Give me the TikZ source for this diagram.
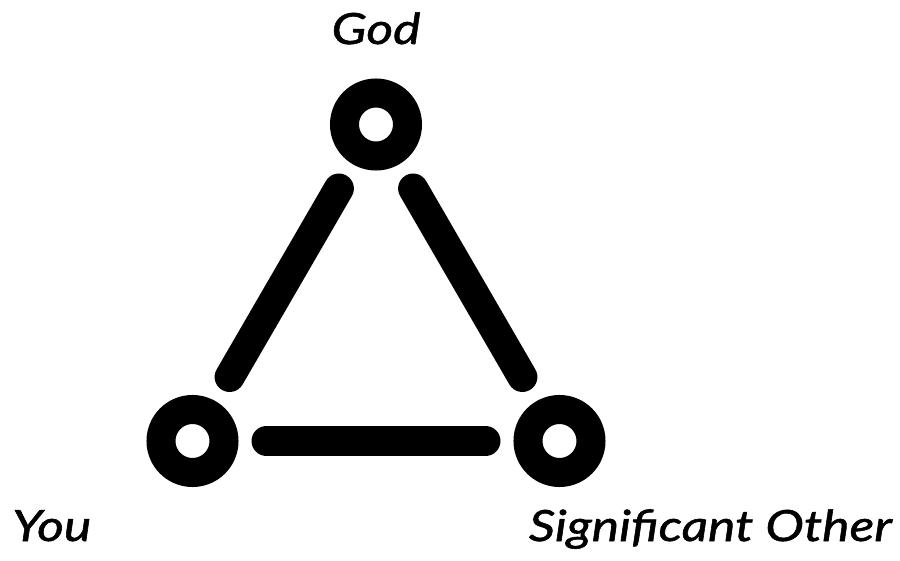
\documentclass[tikz,border=0pt]{standalone}
\usepackage{fontspec}
\setmainfont{Lato}[FakeStretch=1.2,FakeBold=1.3]
\usetikzlibrary{positioning}

\begin{document}
\begin{tikzpicture}[x=1pt,y=1pt,
 ring/.style={circle,draw,line width=29pt,minimum size=63pt,inner sep=0pt,outer sep=0pt},
 link/.style={line width=30pt,line cap=round,shorten <=42.5pt,shorten >=42.5pt},
 who/.style={font=\fontsize{43}{50}\selectfont\itshape,inner sep=0pt}]
\useasboundingbox (0,0) rectangle (900,560);
\node[ring] (god) at (376,435.5) {};
\node[ring] (you) at (192.5,119) {};
\node[ring] (other) at (559.5,119) {};
\draw[link] (god)--(you); \draw[link] (god)--(other); \draw[link] (you)--(other);
\node[who,anchor=base] (godlabel) at (376,516) {God};
\node[who,anchor=base west] (youlabel) at (12,19) {You};
\node[who,anchor=base east] (otherlabel) at (892,19) {Significant Other};
\end{tikzpicture}
\end{document}
